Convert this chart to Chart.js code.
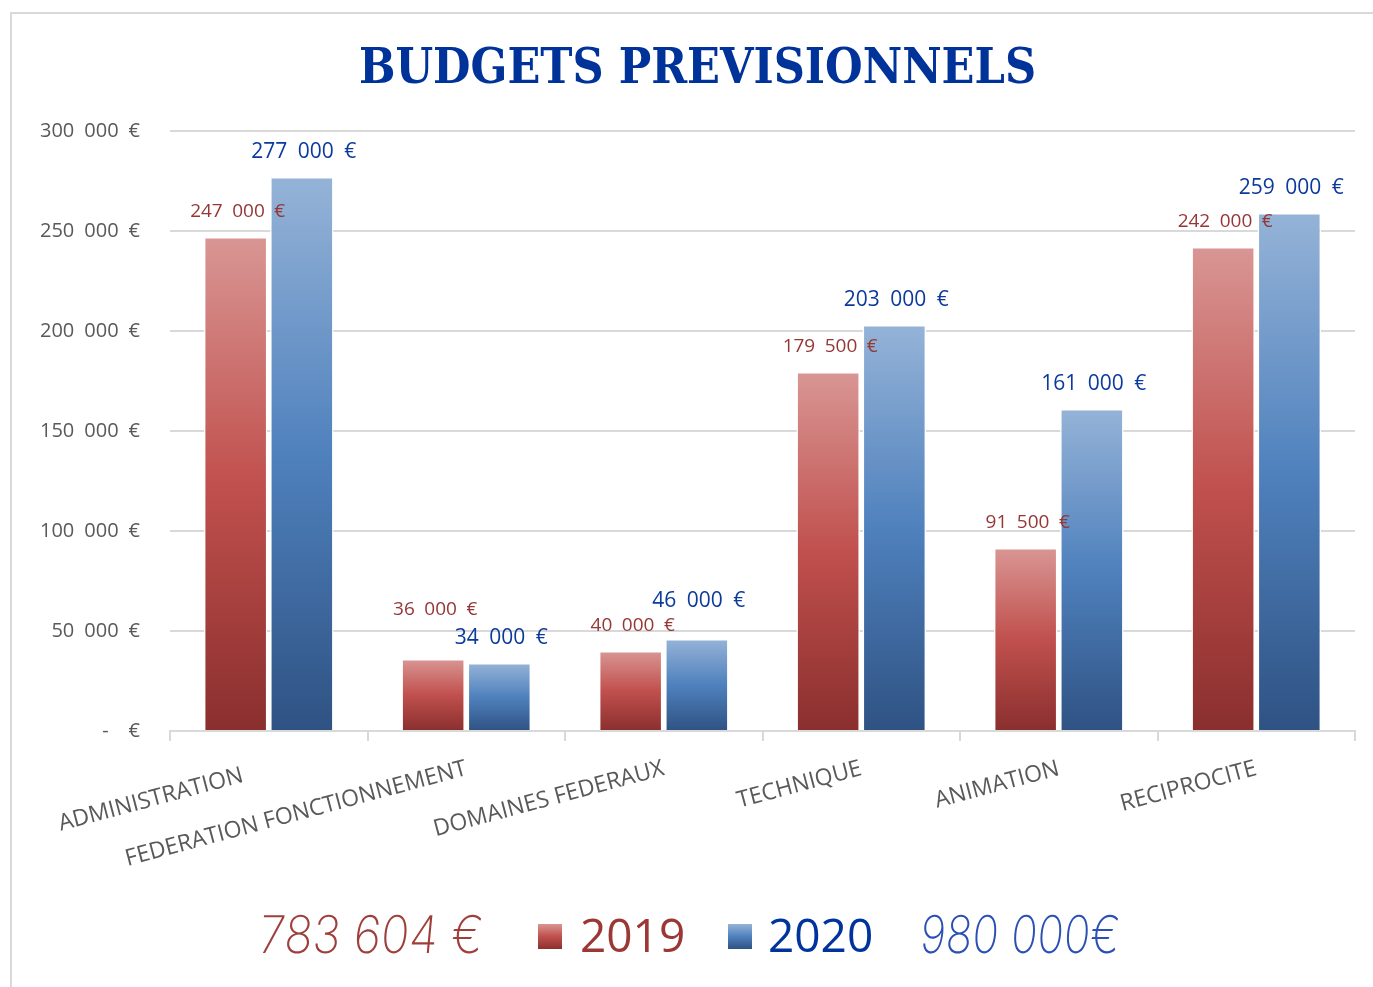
<!DOCTYPE html>
<html>
<head>
<meta charset="utf-8">
<script src="https://cdn.jsdelivr.net/npm/chart.js@4.4.1/dist/chart.umd.min.js"></script>
<style>
  html, body { margin: 0; padding: 0; background: #fff; overflow: hidden; }
  #wrap { position: relative; width: 1373px; height: 987px; }
  #frame { position: absolute; left: 10px; top: 12px; width: 1400px; height: 1000px;
           border: 2px solid #d9d9d9; box-sizing: border-box; }
  #chart { position: absolute; left: 0; top: 0; }
  .lg { position: absolute; white-space: nowrap; line-height: 1; }
  .num { font-family: "Open Sans", sans-serif; font-size: 46px; }
  .box { width: 24px; height: 25px; }
  .hand { font-family: Inter, sans-serif; font-weight: 200; font-size: 52px;
          transform: scaleX(0.9) skewX(-6deg); transform-origin: left top; }
</style>
</head>
<body>
<div id="wrap">
  <div id="frame"></div>
  <canvas id="chart" width="1373" height="987"></canvas>
  <span class="lg hand" style="left:262px; top:909px; color:#9e3f3c;">783 604 €</span>
  <span class="lg box" style="left:538px; top:924px; background:linear-gradient(#d99694,#c0504d 50%,#8c302e);"></span>
  <span class="lg num" style="left:580px; top:911px; color:#9b3836;">2019</span>
  <span class="lg box" style="left:728px; top:924px; background:linear-gradient(#95b3d7,#4f81bd 50%,#2f5283);"></span>
  <span class="lg num" style="left:768px; top:911px; color:#00339c;">2020</span>
  <span class="lg hand" style="left:923px; top:909px; color:#2a50b5; transform: scaleX(0.84) skewX(-6deg);">980 000€</span>
</div>
<script>
const categories = ['ADMINISTRATION', 'FEDERATION FONCTIONNEMENT', 'DOMAINES FEDERAUX', 'TECHNIQUE', 'ANIMATION', 'RECIPROCITE'];
const budget2019 = [247000, 36000, 40000, 179500, 91500, 242000];
const budget2020 = [277000, 34000, 46000, 203000, 161000, 259000];
const yTicks = [0, 50000, 100000, 150000, 200000, 250000, 300000];

const euro = (v) => {
  if (v === 0) return '-\u2003€';
  const s = Math.round(v).toString().replace(/\B(?=(\d{3})+(?!\d))/g, '\u2002');
  return s + '\u2002€';
};

// one gradient per bar, from its top down to the zero line
const barGradient = (stops) => (ctx) => {
  const chart = ctx.chart;
  if (!chart.chartArea || ctx.type !== 'data') return stops[1];
  const y = chart.scales.y;
  const top = y.getPixelForValue(ctx.raw);
  const bottom = y.getPixelForValue(0);
  const g = chart.ctx.createLinearGradient(0, top, 0, bottom);
  g.addColorStop(0, stops[0]);
  g.addColorStop(0.5, stops[1]);
  g.addColorStop(1, stops[2]);
  return g;
};

const valueLabels = {
  id: 'valueLabels',
  afterDatasetsDraw(chart, args, opts) {
    const c = chart.ctx;
    chart.data.datasets.forEach((ds, di) => {
      const meta = chart.getDatasetMeta(di);
      const st = opts.styles[di];
      c.save();
      c.font = st.font;
      c.fillStyle = st.color;
      c.textAlign = 'center';
      c.textBaseline = 'middle';
      meta.data.forEach((bar, i) => {
        const extra = opts.nudge[di + ':' + i] || 0;
        c.fillText(euro(ds.data[i]), bar.x + 2, bar.y - 25 - extra);
      });
      c.restore();
    });
  }
};

new Chart(document.getElementById('chart'), {
  type: 'bar',
  data: {
    labels: categories,
    datasets: [{
      label: '2019',
      data: budget2019,
      backgroundColor: barGradient(['#d99694', '#c0504d', '#8a2f2e']),
      borderColor: '#ffffff',
      borderWidth: 1.5,
      categoryPercentage: 0.67,
      barPercentage: 0.96
    }, {
      label: '2020',
      data: budget2020,
      backgroundColor: barGradient(['#95b3d7', '#4f81bd', '#2f5283']),
      borderColor: '#ffffff',
      borderWidth: 1.5,
      categoryPercentage: 0.67,
      barPercentage: 0.96
    }]
  },
  plugins: [valueLabels],
  options: {
    responsive: false,
    animation: false,
    layout: { padding: { left: 40, right: 18, top: 0, bottom: 80 } },
    plugins: {
      legend: { display: false },
      tooltip: { enabled: false },
      title: {
        display: true,
        text: 'BUDGETS PREVISIONNELS',
        color: '#003399',
        font: { family: '"DejaVu Serif Condensed", "Liberation Serif", serif', size: 48, weight: 'bold', lineHeight: 1.2 },
        padding: { top: 42, bottom: 31.4 }
      },
      valueLabels: {
        styles: [
          { font: '19px "Open Sans"', color: '#953735' },
          { font: '21px "Open Sans"', color: '#0b3a9c' }
        ],
        nudge: { '0:1': 24, '1:2': 13 }
      }
    },
    scales: {
      x: {
        afterFit(scale) { scale.height = 176; },
        grid: { offset: true, drawOnChartArea: false, drawTicks: true, tickLength: 10, color: '#d9d9d9', lineWidth: 2 },
        border: { color: '#d9d9d9', width: 2 },
        ticks: {
          color: '#595959',
          font: { family: '"Open Sans"', size: 23 },
          maxRotation: 15,
          minRotation: 15,
          padding: 14,
          autoSkip: false,
          // the first label sits a little further down-left, as in the original
          callback(v, i) { return i === 0 ? categories[i] + '\u2003\u2009' : categories[i]; }
        }
      },
      y: {
        min: 0,
        max: 300000,
        afterFit(scale) { scale.width = 130; },
        afterBuildTicks(scale) { scale.ticks = yTicks.map(v => ({ value: v })); },
        grid: { drawTicks: false, color: '#d9d9d9', lineWidth: 2 },
        border: { display: false },
        ticks: {
          color: '#595959',
          font: { family: '"Open Sans"', size: 20 },
          padding: 30,
          callback: (v) => euro(v)
        }
      }
    }
  }
});
</script>
</body>
</html>
